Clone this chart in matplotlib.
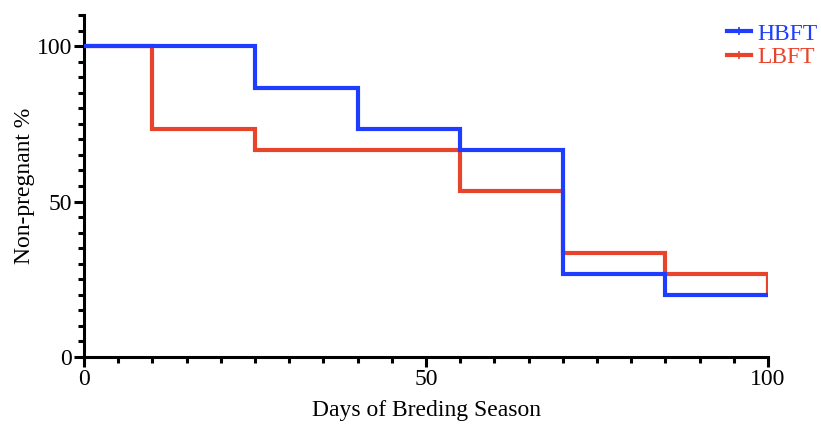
import matplotlib as mpl

mpl.use("Agg")

import matplotlib.pyplot as plt
from matplotlib.lines import Line2D
from matplotlib.ticker import MultipleLocator

# Kaplan-Meier style step data (days, percent non-pregnant)
hbft_days = [0, 25, 40, 55, 70, 85, 100]
hbft_pct = [100, 86.67, 73.33, 66.67, 26.67, 20, 20]
lbft_days = [0, 10, 25, 55, 70, 85, 100, 100]
lbft_pct = [100, 73.33, 66.67, 53.33, 33.33, 26.67, 26.67, 20]

blue = "#1f3dff"
red = "#e8432b"

plt.rcParams["font.family"] = ["Liberation Serif", "DejaVu Serif"]

fig = plt.figure(figsize=(8.21, 4.25), dpi=100)
ax = fig.add_axes([84 / 821, 1 - 357 / 425, (768 - 84) / 821, (357 - 15) / 425])

ax.step(hbft_days, hbft_pct, where="post", color=blue, lw=3, solid_joinstyle="miter", zorder=3)
ax.step(lbft_days, lbft_pct, where="post", color=red, lw=3, solid_joinstyle="miter", zorder=2)

ax.set_xlim(0, 100)
ax.set_ylim(0, 110)
ax.xaxis.set_major_locator(MultipleLocator(50))
ax.xaxis.set_minor_locator(MultipleLocator(5))
ax.yaxis.set_major_locator(MultipleLocator(50))
ax.yaxis.set_minor_locator(MultipleLocator(5))

for side in ("top", "right"):
    ax.spines[side].set_visible(False)
for side in ("left", "bottom"):
    ax.spines[side].set_linewidth(2.2)
ax.spines["bottom"].set_bounds(0, 100)

ax.tick_params(which="major", length=7.5, width=2.2, labelsize=17, pad=1)
ax.tick_params(which="minor", length=4.5, width=2.2)

ax.set_xlabel("Days of Breding Season", fontsize=17, labelpad=7)
ax.set_ylabel("Non-pregnant %", fontsize=17, labelpad=1)

handles = [
    Line2D([0], [0], color=blue, lw=3, marker="|", markersize=6, markeredgewidth=1.2),
    Line2D([0], [0], color=red, lw=3, marker="|", markersize=6, markeredgewidth=1.2),
]
leg = fig.legend(handles, ["HBFT", "LBFT"], loc="upper left",
                 bbox_to_anchor=(727 / 821, 1 - 23 / 425),
                 frameon=False, fontsize=17, handlelength=1.0, handletextpad=0.3,
                 labelspacing=0.1, borderaxespad=0, borderpad=0)
for text, color in zip(leg.get_texts(), [blue, red]):
    text.set_color(color)

fig.savefig("out.png", dpi=100)
